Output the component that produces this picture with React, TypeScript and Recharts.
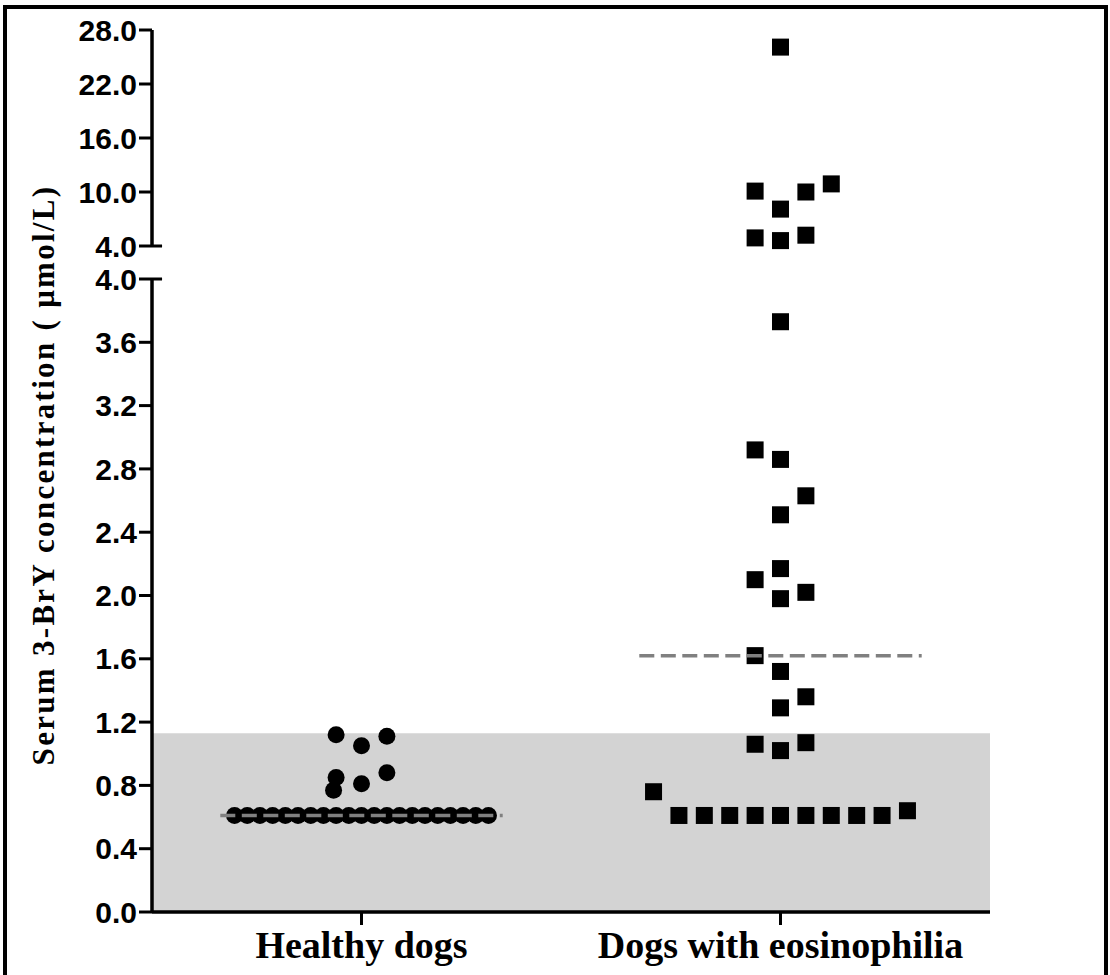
import { ReferenceArea, ReferenceLine, Scatter, ScatterChart, XAxis, YAxis } from "recharts";

const categories = ["Healthy dogs", "Dogs with eosinophilia"];

// serum 3-BrY (µmol/L), one entry per dog
const healthyValues = [
  0.61, 0.61, 0.61, 0.61, 0.61, 0.61, 0.61, 0.61, 0.61, 0.61, 0.61,
  0.61, 0.61, 0.61, 0.61, 0.61, 0.61, 0.61, 0.61, 0.61, 0.61,
  1.12, 1.05, 1.11, 0.85, 0.77, 0.81, 0.88,
];
// horizontal jitter slot of each dot inside its column
const healthySlots = [
  -10, -9, -8, -7, -6, -5, -4, -3, -2, -1, 0,
  1, 2, 3, 4, 5, 6, 7, 8, 9, 10,
  -2, 0, 2, -2, -2.2, 0, 2,
];

const eosinophiliaValues = [
  26.1, 10.1, 8.1, 10.0, 10.9, 4.9, 4.6, 5.2,
  3.73, 2.92, 2.86, 2.63, 2.51, 2.17, 2.1, 1.98, 2.02,
  1.62, 1.52, 1.36, 1.29, 1.06, 1.02, 1.07,
  0.76, 0.61, 0.61, 0.61, 0.61, 0.61, 0.61, 0.61, 0.61, 0.61, 0.64,
];
const eosinophiliaSlots = [
  0, -2, 0, 2, 4, -2, 0, 2,
  0, -2, 0, 2, 0, 0, -2, 0, 2,
  -2, 0, 2, 0, -2, 0, 2,
  -10, -8, -6, -4, -2, 0, 2, 4, 6, 8, 10,
];

const medians = [0.61, 1.62];
const referenceLimit = 1.13;

const lowerTicks = [0, 0.4, 0.8, 1.2, 1.6, 2.0, 2.4, 2.8, 3.2, 3.6, 4.0];
const upperTicks = [4, 10, 16, 22, 28];
const BREAK = 4;

const SLOT = 0.0303; // width of one jitter slot in x units
const MEDIAN_HALF = 0.337;

type Pt = { x: number; y: number };

function toPoints(values: number[], slots: number[], col: number): Pt[] {
  return values.map((v, i) => ({ x: col + 0.5 + slots[i] * SLOT, y: v }));
}

const healthy = toPoints(healthyValues, healthySlots, 0);
const eosinophilia = toPoints(eosinophiliaValues, eosinophiliaSlots, 1);

const medianSegments = medians.map((m, i) => [
  { x: i + 0.5 - MEDIAN_HALF, y: m },
  { x: i + 0.5 + MEDIAN_HALF, y: m },
]);

const dot = (p: any) => <circle cx={p.cx} cy={p.cy} r={8.5} fill="#000" />;
const square = (p: any) => <rect x={p.cx - 8.5} y={p.cy - 8.5} width={17} height={17} fill="#000" />;
const nothing = () => <g />;

const tickFont = {
  fill: "#000",
  fontSize: 30,
  fontWeight: 700,
  fontFamily: "'Liberation Sans', Arial, sans-serif",
};
const axisLine = { stroke: "#000", strokeWidth: 3.5 };
const tickLine = { stroke: "#000", strokeWidth: 3 };

export default function App() {
  return (
    <div
      style={{
        position: "absolute",
        left: 0,
        top: 0,
        width: 1110,
        height: 975,
        overflow: "hidden",
        background: "#fff",
      }}
    >
      <div
        style={{
          position: "absolute",
          left: 3,
          top: 5,
          width: 1105,
          height: 970,
          boxSizing: "border-box",
          borderTop: "4px solid #000",
          borderLeft: "4px solid #000",
          borderRight: "4px solid #000",
        }}
      />

      {/* upper part of the broken axis */}
      <div style={{ position: "absolute", left: 0, top: 0 }}>
        <ScatterChart width={1110} height={262} margin={{ top: 30, right: 120, bottom: 16, left: 0 }}>
          <XAxis type="number" dataKey="x" domain={[0, 2]} hide />
          <YAxis
            type="number"
            dataKey="y"
            width={152}
            domain={[BREAK, 28]}
            ticks={upperTicks}
            interval={0}
            tickFormatter={(v: number) => v.toFixed(1)}
            tick={tickFont}
            tickSize={13}
            tickMargin={2}
            axisLine={axisLine}
            tickLine={tickLine}
          />
          <ReferenceLine
            segment={[{ x: 0, y: BREAK }, { x: 0.024, y: BREAK }]}
            stroke="#000"
            strokeWidth={3}
          />
          <Scatter
            data={eosinophilia.filter((p) => p.y > BREAK)}
            shape={square}
            isAnimationActive={false}
          />
        </ScatterChart>
      </div>

      {/* lower part */}
      <div style={{ position: "absolute", left: 0, top: 262 }}>
        <ScatterChart width={1110} height={713} margin={{ top: 17, right: 120, bottom: 0, left: 0 }}>
          <XAxis
            type="number"
            dataKey="x"
            domain={[0, 2]}
            ticks={[0.5, 1.5]}
            interval={0}
            height={63}
            tickFormatter={(v: number) => categories[Math.round(v - 0.5)]}
            tick={{
              fill: "#000",
              fontSize: 38,
              fontWeight: 700,
              fontFamily: "'Liberation Serif', 'Times New Roman', serif",
            }}
            tickSize={13}
            tickMargin={6}
            axisLine={axisLine}
            tickLine={tickLine}
          />
          <YAxis
            type="number"
            dataKey="y"
            width={152}
            domain={[0, BREAK]}
            ticks={lowerTicks}
            interval={0}
            tickFormatter={(v: number) => v.toFixed(1)}
            tick={tickFont}
            tickSize={13}
            tickMargin={2}
            axisLine={axisLine}
            tickLine={tickLine}
          />
          <ReferenceArea
            x1={0}
            x2={2}
            y1={0}
            y2={referenceLimit}
            fill="#d3d3d3"
            fillOpacity={1}
            stroke="none"
          />
          <ReferenceLine
            segment={[{ x: 0, y: BREAK }, { x: 0.024, y: BREAK }]}
            stroke="#000"
            strokeWidth={3}
          />
          <Scatter data={healthy} shape={dot} isAnimationActive={false} />
          <Scatter
            data={eosinophilia.filter((p) => p.y <= BREAK)}
            shape={square}
            isAnimationActive={false}
          />
          {medianSegments.map((seg, i) => (
            <Scatter
              key={`median-${i}`}
              data={seg}
              shape={nothing}
              line={{ stroke: "#808080", strokeWidth: 3.5, strokeDasharray: "15 6.5" }}
              isAnimationActive={false}
            />
          ))}
        </ScatterChart>
      </div>

      <div
        style={{
          position: "absolute",
          left: 44,
          top: 475,
          transform: "translate(-50%, -50%) rotate(-90deg)",
          whiteSpace: "nowrap",
          fontFamily: "'Liberation Serif', 'Times New Roman', serif",
          fontWeight: 700,
          fontSize: 31,
          letterSpacing: 2.3,
          color: "#000",
          lineHeight: 1.1,
        }}
      >
        Serum 3-BrY concentration ( μmol/L)
      </div>
    </div>
  );
}
